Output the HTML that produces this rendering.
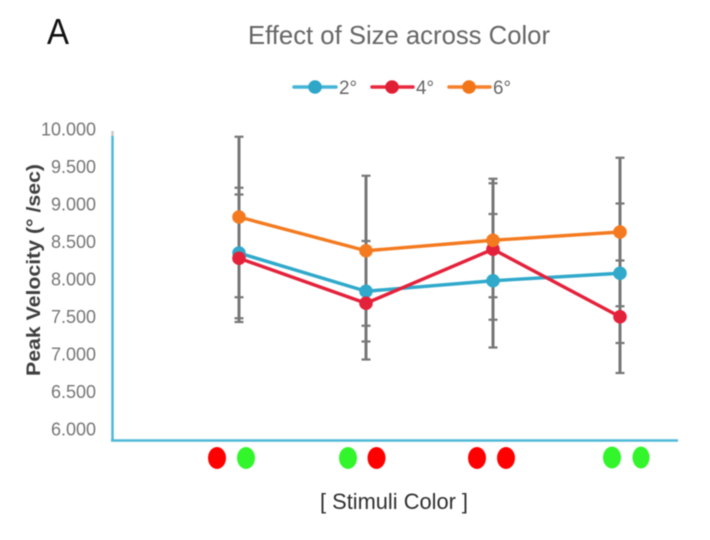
<!DOCTYPE html>
<html>
<head>
<meta charset="utf-8">
<title>Effect of Size across Color</title>
<style>
html,body{margin:0;padding:0;background:#fff;width:710px;height:540px;overflow:hidden}
svg{display:block;filter:blur(0.6px)}
text{font-family:"Liberation Sans",sans-serif}
</style>
</head>
<body>
<svg id="chart" width="710" height="540" viewBox="0 0 710 540" xmlns="http://www.w3.org/2000/svg">
  <text x="47" y="44" font-size="36" fill="#111" textLength="22" lengthAdjust="spacingAndGlyphs">A</text>
  <text x="248" y="44" font-size="26" fill="#666" textLength="302" lengthAdjust="spacingAndGlyphs">Effect of Size across Color</text>

  <g>
    <g>
      <line x1="294" y1="87" x2="336" y2="87" stroke="#45b5d6" stroke-width="3.5" stroke-linecap="round"/>
      <circle cx="315" cy="87" r="6.8" fill="#2ea6c8"/>
      <text x="339" y="94" font-size="19" fill="#666" textLength="18" lengthAdjust="spacingAndGlyphs">2°</text>
    </g>
    <g>
      <line x1="372" y1="87" x2="413" y2="87" stroke="#e8293f" stroke-width="3.5" stroke-linecap="round"/>
      <circle cx="392" cy="87" r="6.8" fill="#e01f35"/>
      <text x="416" y="94" font-size="19" fill="#666" textLength="18" lengthAdjust="spacingAndGlyphs">4°</text>
    </g>
    <g>
      <line x1="449" y1="87" x2="490" y2="87" stroke="#f5802a" stroke-width="3.5" stroke-linecap="round"/>
      <circle cx="469" cy="87" r="6.8" fill="#f27518"/>
      <text x="493" y="94" font-size="19" fill="#666" textLength="18" lengthAdjust="spacingAndGlyphs">6°</text>
    </g>
  </g>

  <text transform="translate(40,376) rotate(-90)" x="0" y="0" font-size="19" font-weight="bold" fill="#3f3f3f" textLength="212" lengthAdjust="spacingAndGlyphs">Peak Velocity (° /sec)</text>

  <g id="y-ticks"></g>
  <g id="error-bars"></g>

  <line x1="112.5" y1="131" x2="112.5" y2="136" stroke="#c8c8c8" stroke-width="2.5"/>
  <line x1="112.5" y1="136" x2="112.5" y2="440" stroke="#4db8d6" stroke-width="2.5"/>
  <line x1="111" y1="440.5" x2="678" y2="440.5" stroke="#4db8d6" stroke-width="2.5"/>

  <g id="series"></g>

  <g>
    <ellipse cx="217" cy="458" rx="9" ry="11" fill="#ff0000"/>
    <ellipse cx="246" cy="458" rx="9" ry="11" fill="#33f52c"/>
    <ellipse cx="348" cy="458" rx="9" ry="11" fill="#33f52c"/>
    <ellipse cx="376.5" cy="458" rx="9" ry="11" fill="#ff0000"/>
    <ellipse cx="477" cy="458" rx="9" ry="11" fill="#ff0000"/>
    <ellipse cx="506" cy="458" rx="9" ry="11" fill="#ff0000"/>
    <ellipse cx="612" cy="457.5" rx="9" ry="11" fill="#33f52c"/>
    <ellipse cx="641" cy="457.5" rx="8.5" ry="11" fill="#33f52c"/>
  </g>

  <text x="320" y="509" font-size="22" fill="#2f2f2f" textLength="148" lengthAdjust="spacingAndGlyphs">[ Stimuli Color ]</text>
</svg>

<script>
const categories = ["red-green", "green-red", "red-red", "green-green"];
const yTickValues = [10, 9.5, 9, 8.5, 8, 7.5, 7, 6.5, 6];
const yTickLabels = ["10.000", "9.500", "9.000", "8.500", "8.000", "7.500", "7.000", "6.500", "6.000"];
const seriesNames = ["2deg", "4deg", "6deg"];
const values2deg = [8.36, 7.85, 7.99, 8.09];
const values4deg = [8.29, 7.69, 8.41, 7.51];
const values6deg = [8.84, 8.39, 8.53, 8.64];
const errors2deg = [0.87, 0.67, 0.89, 0.93];
const errors4deg = [0.85, 0.75, 0.94, 0.75];
const errors6deg = [1.07, 1.00, 0.76, 0.99];

const SVG_NS = "http://www.w3.org/2000/svg";
function xScale(i) { return 239 + i * 127; }
function yScale(v) { return 430 - (v - 6) * 75; }
function make(tag, parent, props) {
  const el = document.createElementNS(SVG_NS, tag);
  for (const k in props) el.setAttribute(k, props[k]);
  parent.appendChild(el);
  return el;
}

const tickGroup = document.getElementById("y-ticks");
yTickValues.forEach(function (v, i) {
  const t = make("text", tickGroup, { x: 96, y: yScale(v) + 5.5, "text-anchor": "end", "font-size": 18, fill: "#767676" });
  
  
  t.textContent = yTickLabels[i];
});

const seriesValues = [values2deg, values4deg, values6deg];
const seriesErrors = [errors2deg, errors4deg, errors6deg];
const lineColors = ["#30a9cb", "#e4213a", "#f47a1f"];

const errGroup = document.getElementById("error-bars");
seriesValues.forEach(function (vals, s) {
  vals.forEach(function (v, i) {
    const x = xScale(i);
    const top = yScale(v + seriesErrors[s][i]);
    const bottom = yScale(v - seriesErrors[s][i]);
    const stem = make("line", errGroup, { x1: x, x2: x, y1: top, y2: bottom, stroke: "#777", "stroke-width": 3 });
    
    
    [top, bottom].forEach(function (y) {
      const cap = make("line", errGroup, { x1: x - 4.5, x2: x + 4.5, y1: y, y2: y, stroke: "#777", "stroke-width": 2.2 });
      
      
    });
  });
});

const seriesGroup = document.getElementById("series");
seriesValues.forEach(function (vals, s) {
  const line = make("polyline", seriesGroup, {
    points: vals.map(function (v, i) { return xScale(i) + "," + yScale(v); }).join(" "),
    fill: "none", stroke: lineColors[s], "stroke-width": 3.4, "stroke-linejoin": "round"
  });
  
  
  vals.forEach(function (v, i) {
    const pt = make("circle", seriesGroup, { cx: xScale(i), cy: yScale(v), r: 6.8, fill: lineColors[s] });
    
    
  });
});
</script>
</body>
</html>
